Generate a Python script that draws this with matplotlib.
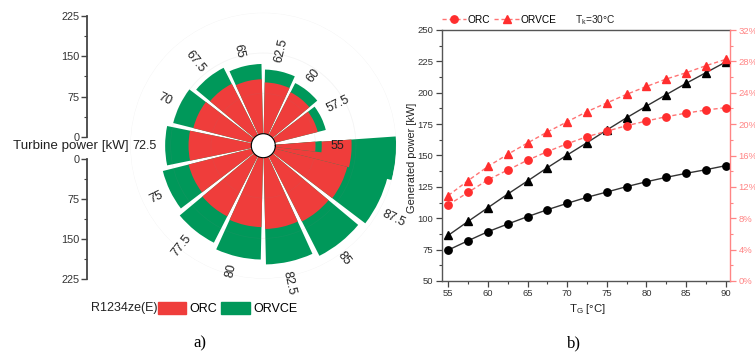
import numpy as np
import matplotlib
matplotlib.use("Agg")
import matplotlib.pyplot as plt
from matplotlib.lines import Line2D
from matplotlib.patches import Patch
from matplotlib.ticker import MultipleLocator, FuncFormatter

plt.rcParams["font.family"] = ["Liberation Sans", "DejaVu Sans"]
plt.rcParams["mathtext.fontset"] = "custom"
plt.rcParams["mathtext.rm"] = "Liberation Sans"
plt.rcParams["mathtext.it"] = "Liberation Sans:italic"

# Generator temperature [°C]
t_gen = [55, 57.5, 60, 62.5, 65, 67.5, 70, 72.5, 75, 77.5, 80, 82.5, 85, 87.5, 90]
# Turbine / generated power [kW]
orc_power = [74.7, 82.1, 89.3, 95.4, 101.3, 106.8, 111.9, 116.7, 120.9,
             125.2, 129.1, 132.6, 135.8, 138.7, 141.9]
orvce_power = [86.4, 97.5, 108.4, 119.3, 129.7, 140.3, 150.4, 160.2, 170.3,
               180.1, 189.4, 198.5, 207.5, 216.0, 224.5]
# Thermal efficiency [%]
orc_eff = [9.7, 11.3, 12.9, 14.15, 15.4, 16.5, 17.5, 18.4, 19.1, 19.8,
           20.4, 20.95, 21.4, 21.8, 22.1]
orvce_eff = [10.9, 12.8, 14.6, 16.15, 17.6, 19.0, 20.3, 21.6, 22.7, 23.8,
             24.8, 25.75, 26.55, 27.45, 28.25]

RED = "#EF3D3B"
GREEN = "#00985A"
LINE_RED = "#FF7373"
MARK_RED = "#FF2E2E"
SALMON = "#FF8585"
DARK = "#333333"

fig = plt.figure(figsize=(7.55, 3.54), dpi=100)
W, H = 755.0, 354.0


def fx(px):
    return px / W


def fy(py):
    return 1 - py / H


# ---------------- a) polar bar chart of turbine power ----------------
n = len(t_gen)
step = 360.0 / (n - 1)
label_deg = np.arange(n) * step
theta = np.deg2rad(label_deg)
width = np.full(n, np.deg2rad(0.9 * step))
# the last temperature wraps onto the first sector: shift it clockwise,
# and narrow the first bar so it sits on top of it
theta[-1] -= np.deg2rad(5.5)
width[-1] = np.deg2rad(19)
theta[0] -= np.deg2rad(1)
width[0] = np.deg2rad(11)

cx, cy, rpx = 263.3, 145.7, 133.0
axp = fig.add_axes([fx(cx - rpx), fy(cy + rpx), 2 * rpx / W, 2 * rpx / H],
                   projection="polar")
axp.set_theta_zero_location("E")
axp.set_ylim(0, 225)
axp.set_rorigin(-22.3)
for i in reversed(range(n)):
    axp.bar(theta[i], orvce_power[i], width=width[i], color=GREEN,
            linewidth=0, zorder=2)
    axp.bar(theta[i], orc_power[i], width=width[i], color=RED,
            linewidth=0, zorder=2)
axp.set_xticks([])
axp.set_yticks([75, 150, 225])
axp.set_yticklabels([])
axp.set_axisbelow(False)
axp.yaxis.grid(True, color="#888888", alpha=0.09, linewidth=0.6)
axp.xaxis.grid(False)
axp.spines["polar"].set_visible(False)
axp.patch.set_alpha(0)

for i in range(n - 1):
    ang = label_deg[i] % 360
    rad = np.deg2rad(ang)
    # spread the labels slightly away from the horizontal on the right side
    pos = ang + 4.0 * np.sign(np.sin(rad)) * (1 + np.cos(rad)) / 2
    if 90 < ang <= 270:
        rot, ha = ang - 180, "right"
    else:
        rot, ha = (ang if ang <= 90 else ang - 360), "left"
    axp.text(np.deg2rad(pos), orvce_power[i] + 16, f"{t_gen[i]:g}",
             rotation=rot, rotation_mode="anchor", ha=ha, va="center",
             fontsize=9, color="#222222", clip_on=False, zorder=5)

# radial scale drawn as two vertical axes
ax_up = fig.add_axes([fx(87), fy(137), 0.001, (137 - 16) / H])
ax_dn = fig.add_axes([fx(87), fy(279), 0.001, (279 - 159) / H])
ax_up.set_ylim(0, 225)
ax_dn.set_ylim(225, 0)
for a in (ax_up, ax_dn):
    a.patch.set_visible(False)
    for s in ("top", "right", "bottom"):
        a.spines[s].set_visible(False)
    a.spines["left"].set_color("#444444")
    a.spines["left"].set_linewidth(1.3)
    a.set_xticks([])
    a.yaxis.set_major_locator(MultipleLocator(75))
    a.yaxis.set_minor_locator(MultipleLocator(37.5))
    a.tick_params(axis="y", which="major", length=4, width=1, color="#444444",
                  labelsize=7.8, labelcolor=DARK, pad=1.5)
    a.tick_params(axis="y", which="minor", length=2.5, width=0.8, color="#444444")

fig.text(fx(13), fy(146.5), "Turbine power [kW]", fontsize=9.6, color="#222222",
         ha="left", va="center")

fig.text(fx(157), fy(308.5), "R1234ze(E)", fontsize=9, color="#222222",
         ha="right", va="center")
fig.legend(handles=[Patch(color=RED, label="ORC"), Patch(color=GREEN, label="ORVCE")],
           loc="center left", bbox_to_anchor=(fx(158), fy(308.5)), ncol=2,
           frameon=False, fontsize=9, handlelength=2.25, handleheight=1.05,
           handletextpad=0.3, columnspacing=0.3, borderpad=0, borderaxespad=0)

fig.text(fx(200), fy(343), "a)", fontsize=12, family="Liberation Serif",
         ha="center", va="center")

# ---------------- b) generated power and efficiency ----------------
ax = fig.add_axes([fx(441.7), fy(281), (730 - 441.7) / W, (281 - 30) / H])
ax.plot(t_gen, orc_power, color=DARK, linewidth=1, marker="o", markersize=5.3,
        markerfacecolor="black", markeredgecolor="black", zorder=3)
ax.plot(t_gen, orvce_power, color=DARK, linewidth=1, marker="^", markersize=6,
        markerfacecolor="black", markeredgecolor="black", zorder=3)
ax.set_xlim(54.17, 90.54)
ax.set_ylim(50, 250)
ax.xaxis.set_major_locator(MultipleLocator(5))
ax.xaxis.set_minor_locator(MultipleLocator(2.5))
ax.yaxis.set_major_locator(MultipleLocator(25))
ax.yaxis.set_minor_locator(MultipleLocator(12.5))
ax.tick_params(which="major", length=4, width=0.9, color="#444444",
               labelsize=6.8, labelcolor=DARK, pad=2)
ax.tick_params(which="minor", length=2.3, width=0.8, color="#444444")
for s in ("left", "bottom", "top"):
    ax.spines[s].set_color("#555555")
    ax.spines[s].set_linewidth(1)
ax.spines["right"].set_visible(False)
ax.set_ylabel("Generated power [kW]", fontsize=7.9, color="#222222")
ax.yaxis.set_label_coords(-0.085, 0.49)
ax.set_xlabel(r"T$_\mathregular{G}$ [°C]", fontsize=8.2, color="#222222")
ax.xaxis.set_label_coords(0.504, -0.085)

ax2 = ax.twinx()
ax2.plot(t_gen, orc_eff, color=LINE_RED, linewidth=1, linestyle=(0, (3, 2)),
         marker="o", markersize=5.3, markerfacecolor=MARK_RED,
         markeredgecolor=MARK_RED, zorder=3)
ax2.plot(t_gen, orvce_eff, color=LINE_RED, linewidth=1, linestyle=(0, (3, 2)),
         marker="^", markersize=6, markerfacecolor=MARK_RED,
         markeredgecolor=MARK_RED, zorder=3)
ax2.set_ylim(0, 32)
ax2.yaxis.set_major_locator(MultipleLocator(4))
ax2.yaxis.set_minor_locator(MultipleLocator(2))
ax2.yaxis.set_major_formatter(FuncFormatter(lambda v, p: f"{v:.0f}%"))
ax2.tick_params(which="major", length=4, width=0.9, color=SALMON,
                labelsize=6.8, labelcolor=SALMON, pad=2)
ax2.tick_params(which="minor", length=2.3, width=0.8, color=SALMON)
for s in ("left", "bottom", "top"):
    ax2.spines[s].set_visible(False)
ax2.spines["right"].set_color(SALMON)
ax2.spines["right"].set_linewidth(1)

leg_handles = [
    Line2D([], [], color=LINE_RED, linestyle=(0, (3, 2)), linewidth=1, marker="o",
           markersize=5.3, markerfacecolor=MARK_RED, markeredgecolor=MARK_RED,
           label="ORC"),
    Line2D([], [], color=LINE_RED, linestyle=(0, (3, 2)), linewidth=1, marker="^",
           markersize=6, markerfacecolor=MARK_RED, markeredgecolor=MARK_RED,
           label="ORVCE"),
]
fig.legend(handles=leg_handles, loc="center left", bbox_to_anchor=(fx(442), fy(20)),
           ncol=2, frameon=False, fontsize=7.3, handlelength=2.4, numpoints=1,
           handletextpad=0.15, columnspacing=0.4, borderpad=0, borderaxespad=0)
fig.text(fx(575), fy(20), r"T$_\mathregular{k}$=30°C", fontsize=7.3,
         color="#222222", ha="left", va="center")

fig.text(fx(574), fy(343), "b)", fontsize=12, family="Liberation Serif",
         ha="center", va="center")

fig.savefig("out.png", dpi=100)
